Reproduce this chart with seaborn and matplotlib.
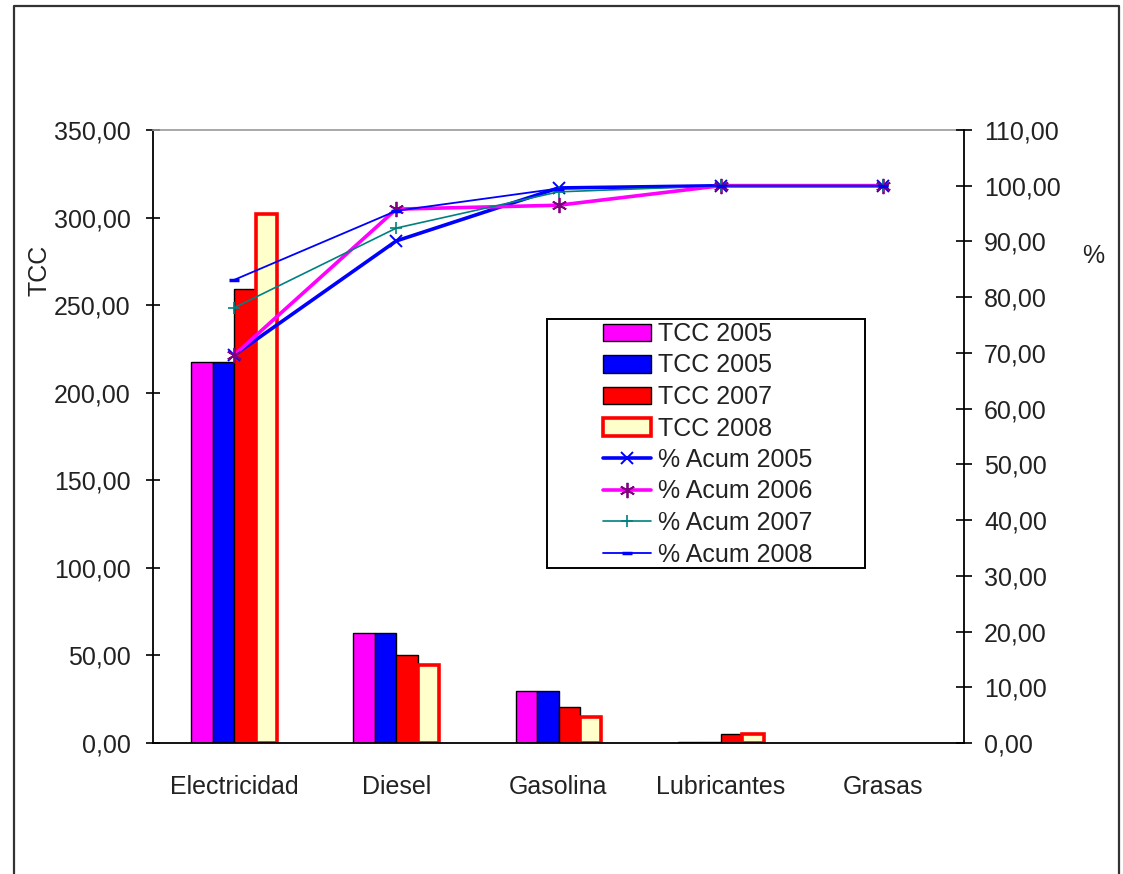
import numpy as np
import pandas as pd
import matplotlib
matplotlib.use("Agg")
import matplotlib.pyplot as plt
import seaborn as sns
from matplotlib.ticker import FuncFormatter
from matplotlib.lines import Line2D
from matplotlib.patches import Rectangle

# ---------------- data ----------------
categories = ["Electricidad", "Diesel", "Gasolina", "Lubricantes", "Grasas"]
bar_labels = ["TCC 2005", "TCC 2005", "TCC 2007", "TCC 2008"]
tcc_a = [217.5, 62.8, 29.7, 0.8, 0.0]
tcc_b = [217.5, 62.8, 29.7, 0.8, 0.0]
tcc_2007 = [259.5, 50.0, 20.5, 5.0, 0.0]
tcc_2008 = [302.0, 44.5, 15.0, 5.0, 0.0]

line_labels = ["% Acum 2005", "% Acum 2006", "% Acum 2007", "% Acum 2008"]
acum_2005 = [69.6, 90.1, 99.6, 100.0, 100.0]
acum_2006 = [69.6, 95.8, 96.5, 100.0, 100.0]
acum_2007 = [78.1, 92.4, 98.9, 100.0, 100.0]
acum_2008 = [83.1, 95.5, 99.5, 100.0, 100.0]

# ---------------- style ----------------
sns.set_style("white")
plt.rcParams["font.family"] = ["Liberation Sans", "DejaVu Sans"]
FS = 18

fig = plt.figure(figsize=(11.23, 8.74), dpi=100)
ax = fig.add_axes([153 / 1123, 1 - 743 / 874, 811 / 1123, 613 / 874])

keys = ["s1", "s2", "s3", "s4"]
df = pd.DataFrame({
    "cat": np.tile(categories, 4),
    "val": np.concatenate([tcc_a, tcc_b, tcc_2007, tcc_2008]),
    "serie": np.repeat(keys, len(categories)),
})
palette = dict(zip(keys, ["#FF00FF", "#0000FF", "#FF0000", "#FFFFCC"]))
sns.barplot(data=df, x="cat", y="val", hue="serie", order=categories,
            hue_order=keys, palette=palette, width=0.53, saturation=1,
            edgecolor="black", linewidth=1.0, legend=False, ax=ax)
for p in ax.containers[3].patches:
    p.set_edgecolor("#FF0000")
    p.set_linewidth(2.6)
for c in ax.containers:
    for p in c.patches:
        if p.get_height() == 0:
            p.set_linewidth(0)

ax.set_ylim(0, 350)
ax.set_xlim(-0.5, 4.5)
ax.set_yticks(np.arange(0, 351, 50))
fmt = FuncFormatter(lambda v, p: f"{v:.2f}".replace(".", ","))
ax.yaxis.set_major_formatter(fmt)
ax.set_xticks(np.arange(-0.5, 5.0, 1.0))
ax.set_xticklabels([])
ax.set_xticks(np.arange(5), minor=True)
ax.set_xticklabels(categories, minor=True)
ax.tick_params(axis="x", which="major", direction="inout", length=13, width=1.2, color="black")
ax.tick_params(axis="x", which="minor", length=0, pad=23, labelsize=FS, colors="#222222")
ax.tick_params(axis="y", direction="inout", length=10, width=1.2, pad=11, labelsize=FS,
               colors="black", labelcolor="#222222", left=True)
ax.set_xlabel("")
ax.set_ylabel("TCC", fontsize=FS, color="#222222")
ax.yaxis.set_label_coords((51 - 153) / 811, (743 - 270) / 613)
for s in ["left", "bottom"]:
    ax.spines[s].set_color("black")
    ax.spines[s].set_linewidth(1.3)
ax.spines["top"].set_color("#999999")
ax.spines["top"].set_linewidth(1.2)
ax.spines["right"].set_visible(False)

# ---------------- lines on secondary axis ----------------
ax2 = ax.twinx()
xpos = np.arange(len(categories))
sns.lineplot(x=xpos, y=acum_2005, ax=ax2, color="#0000FF", lw=2.6, marker="x",
             markersize=9, mec="#0000FF", mew=1.4)
sns.lineplot(x=xpos, y=acum_2006, ax=ax2, color="#FF00FF", lw=2.6, marker=(6, 2, 0),
             markersize=11, mec="#800080", mew=1.3)
sns.lineplot(x=xpos, y=acum_2007, ax=ax2, color="#008080", lw=1.2, marker="+",
             markersize=8, mec="#008080", mew=1.2)
sns.lineplot(x=xpos, y=acum_2008, ax=ax2, color="#0000FF", lw=1.3, marker="_",
             markersize=7, mec="#0000FF", mew=2.5)
ax2.set_ylim(0, 110)
ax2.set_xlim(-0.5, 4.5)
ax2.set_yticks(np.arange(0, 111, 10))
ax2.yaxis.set_major_formatter(fmt)
ax2.tick_params(axis="y", direction="inout", length=11, width=1.2, pad=9, labelsize=FS,
                colors="black", labelcolor="#222222", right=True)
ax2.set_ylabel("%", rotation=0, fontsize=FS, color="#222222")
ax2.yaxis.set_label_coords((1093 - 153) / 811, (743 - 244) / 613)
for s in ["left", "bottom", "top"]:
    ax2.spines[s].set_visible(False)
ax2.spines["right"].set_color("black")
ax2.spines["right"].set_linewidth(1.3)

# ---------------- legend ----------------
handles = [c.patches[0] for c in ax.containers] + list(ax2.lines[:4])
labels = bar_labels + line_labels
leg = ax2.legend(handles, labels, loc="upper left",
                 bbox_to_anchor=(603 / 1123, 1 - 322 / 874), bbox_transform=fig.transFigure,
                 frameon=False, fontsize=FS, borderpad=0, borderaxespad=0,
                 handlelength=1.9, handletextpad=0.3, labelspacing=0.3)
for t in leg.get_texts():
    t.set_color("#222222")
fig.add_artist(Rectangle((547 / 1123, 1 - 568 / 874), 318 / 1123, 249 / 874,
                         transform=fig.transFigure, fill=False, edgecolor="black",
                         linewidth=1.4, zorder=5))

# ---------------- outer frame ----------------
fig.add_artist(Line2D([14 / 1123, 14 / 1123, 1119 / 1123, 1119 / 1123],
                      [0, 1 - 6 / 874, 1 - 6 / 874, 0],
                      transform=fig.transFigure, color="#333333", lw=1.6))

fig.savefig("out.png", dpi=100)
